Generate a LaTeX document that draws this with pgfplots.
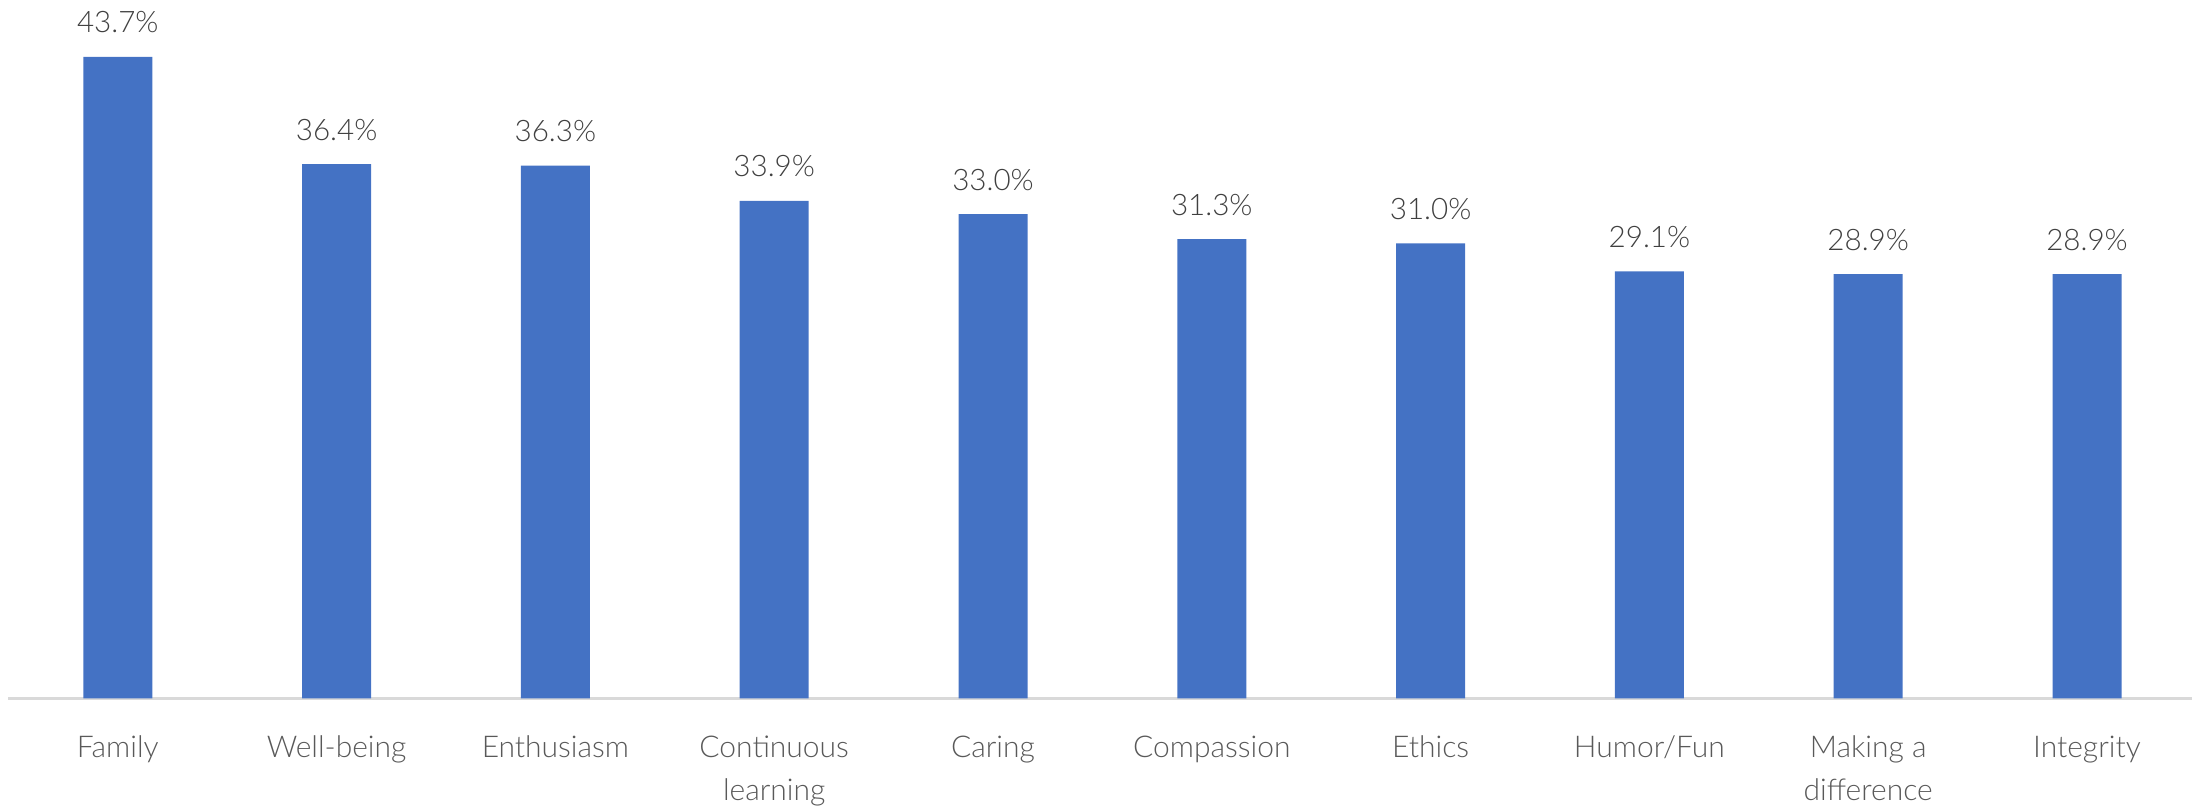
\documentclass[border=0pt]{standalone}
\usepackage{fontspec}
\setmainfont{Lato}[UprightFont=* Light]
\usepackage{pgfplots}
\pgfplotsset{compat=1.18}
\definecolor{barblue}{HTML}{4472C4}
\definecolor{axisgray}{HTML}{D9D9D9}
\definecolor{lblgray}{HTML}{595959}
\definecolor{valgray}{HTML}{404040}
\begin{document}
\begin{tikzpicture}
\begin{axis}[
  at={(2.1pt,28.125pt)}, anchor=south west,
  scale only axis, width=547pt, height=183.5pt,
  xmin=-0.5, xmax=9.5, ymin=0, ymax=50,
  axis y line=none, axis x line=bottom,
  x axis line style={draw=axisgray, line width=0.6pt, -},
  xtick=data, major tick length=0pt,
  xticklabels={{\strut Family},{\strut Well-being},{\strut Enthusiasm},{\strut Continuous\\learning},{\strut Caring},{\strut Compassion},{\strut Ethics},{\strut Humor/Fun},{\strut Making a\\difference},{\strut Integrity}},
  xticklabel style={font=\fontsize{7.5}{10.75}\selectfont, text=lblgray, align=center, anchor=north, inner sep=0pt, yshift=-7.0pt},
  ybar, bar width=17.25pt,
  nodes near coords, point meta=explicit symbolic,
  every node near coord/.append style={font=\fontsize{7.4}{8.5}\selectfont, text=valgray, anchor=base, yshift=6pt, inner sep=0pt},
  clip=false,
]
\addplot[fill=barblue, draw=none] coordinates {
(0,43.7) [43.7\%]
(1,36.4) [36.4\%]
(2,36.3) [36.3\%]
(3,33.9) [33.9\%]
(4,33.0) [33.0\%]
(5,31.3) [31.3\%]
(6,31.0) [31.0\%]
(7,29.1) [29.1\%]
(8,28.9) [28.9\%]
(9,28.9) [28.9\%]
};
\end{axis}
\pgfresetboundingbox
\path[use as bounding box] (0,0) rectangle (548pt,202.75pt);
\end{tikzpicture}
\end{document}
